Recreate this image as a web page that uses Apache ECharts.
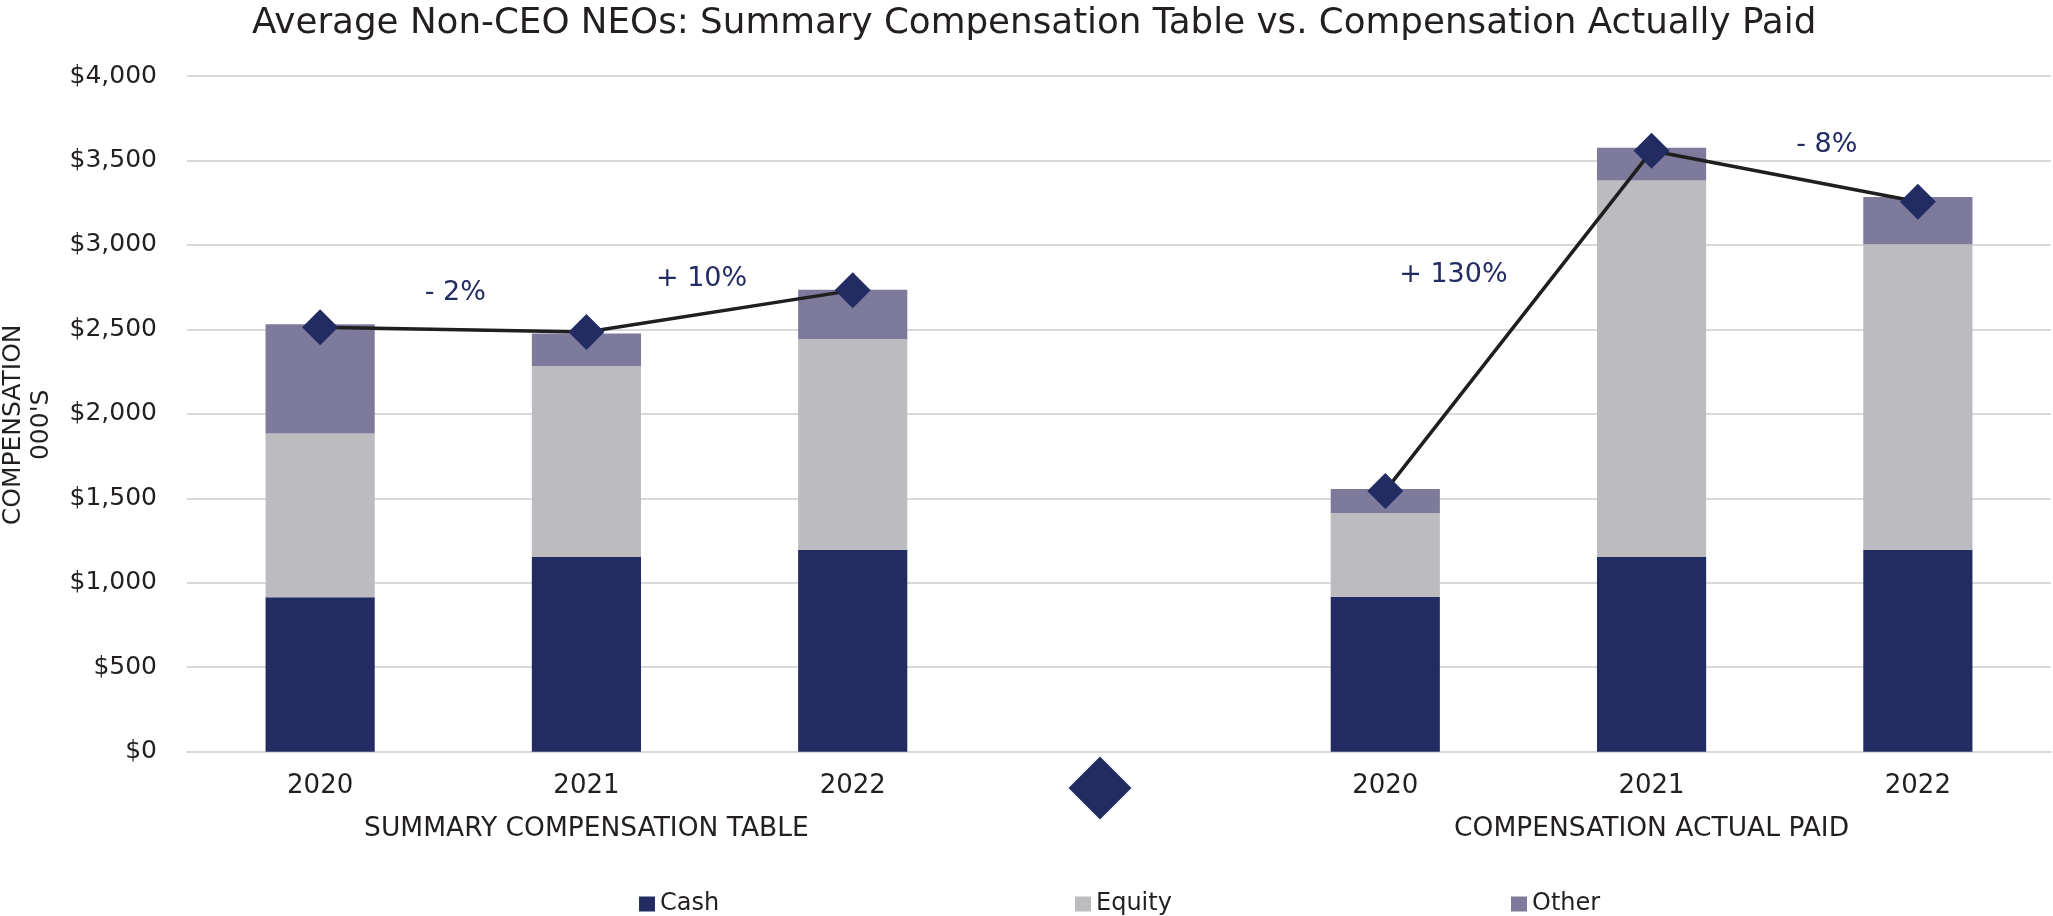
<!DOCTYPE html>
<html>
<head>
<meta charset="utf-8">
<script src="https://cdn.jsdelivr.net/npm/echarts@6/dist/echarts.min.js"></script>
<style>html,body{margin:0;padding:0;background:#fff;}#c{width:2053px;height:916px;}</style>
</head>
<body>
<div id="c"></div>
<script>
const categories = ['2020', '2021', '2022', '', '2020', '2021', '2022'];
const groupLabels = ['', 'SUMMARY COMPENSATION TABLE', '', '', '', 'COMPENSATION ACTUAL PAID', ''];
const cash   = [915, 1153, 1195, null, 918, 1153, 1195];
const equity = [968, 1131, 1248, null, 495, 2228, 1809];
const other  = [647, 191, 291, null, 142, 194, 280];
const total  = [2513, 2485, 2731, null, 1544, 3557, 3256];
const separatorMarker = [null, null, null, -215, null, null, null];
const changeLabels = ['- 2%', '+ 10%', '+ 130%', '- 8%'];
const changePairs = [[0, 1], [1, 2], [4, 5], [5, 6]];

const FONT = 'DejaVu Sans';
const NAVY = '#222c63';
const TEXT = '#231f20';

// label anchors: midpoint of the segment each label describes (value x-axis, category i centered at i+0.5)
const labelOffsets = [[2, -37], [-18, -32], [-65, -46], [42, -31]];
const changeData = changePairs.map(function (p, k) {
  return {
    value: [(p[0] + p[1]) / 2 + 0.5, (total[p[0]] + total[p[1]]) / 2],
    name: changeLabels[k],
    label: { offset: labelOffsets[k] }
  };
});

const chart = echarts.init(document.getElementById('c'));
chart.setOption({
  animation: false,
  backgroundColor: '#ffffff',
  textStyle: { fontFamily: FONT },
  title: {
    text: 'Average Non-CEO NEOs: Summary Compensation Table vs. Compensation Actually Paid',
    left: 247,
    top: 1,
    textStyle: { fontFamily: FONT, fontSize: 35.7, fontWeight: 'normal', color: TEXT }
  },
  legend: [
    { data: ['Cash'], left: 634, top: 887 },
    { data: ['Equity'], left: 1070, top: 887 },
    { data: ['Other'], left: 1506, top: 887 }
  ].map(function (l) {
    return Object.assign(l, {
      icon: 'rect', itemWidth: 16, itemHeight: 15, itemGap: 0,
      textStyle: { fontFamily: FONT, fontSize: 24, color: TEXT, padding: [0, 0, 0, 0] }
    });
  }),
  grid: { left: 187, right: 2, top: 76, bottom: 164.3, containLabel: false, outerBoundsMode: 'none' },
  xAxis: [
    {
      type: 'category', data: categories,
      axisLine: { show: true, lineStyle: { color: '#d9d9d9', width: 2 } },
      axisTick: { show: false },
      axisLabel: { interval: 0, margin: 22, fontFamily: FONT, fontSize: 26, color: TEXT }
    },
    {
      type: 'category', data: groupLabels, position: 'bottom', offset: 64,
      axisLine: { show: false }, axisTick: { show: false }, splitLine: { show: false },
      axisLabel: { interval: 0, margin: 0, fontFamily: FONT, fontSize: 26.5, color: TEXT }
    },
    { type: 'value', min: 0, max: 7, show: false }
  ],
  yAxis: {
    type: 'value', min: 0, max: 4000, interval: 500,
    name: "COMPENSATION\n000'S", nameLocation: 'middle', nameGap: 132, nameRotate: 90,
    nameTextStyle: { fontFamily: FONT, fontSize: 25, color: TEXT, lineHeight: 28, padding: [0, 22, 0, 0] },
    axisLine: { show: false }, axisTick: { show: false },
    splitLine: { lineStyle: { color: '#d9d9d9', width: 2 } },
    axisLabel: {
      margin: 30, fontFamily: FONT, fontSize: 25, color: TEXT,
      formatter: function (v) { return '$' + v.toLocaleString('en-US'); }
    }
  },
  series: [
    { name: 'Cash', type: 'bar', stack: 'c', data: cash, barWidth: '41%', itemStyle: { color: NAVY } },
    { name: 'Equity', type: 'bar', stack: 'c', data: equity, barWidth: '41%', itemStyle: { color: '#bcbcc0' } },
    { name: 'Other', type: 'bar', stack: 'c', data: other, barWidth: '41%', itemStyle: { color: '#7e7a9c' } },
    {
      name: 'Total', type: 'line', data: total, connectNulls: false,
      symbol: 'diamond', symbolSize: 36, z: 5,
      lineStyle: { color: '#1f1f1f', width: 3.5 },
      itemStyle: { color: NAVY, opacity: 1 }
    },
    {
      name: 'Marker', type: 'scatter', data: separatorMarker, clip: false,
      symbol: 'diamond', symbolSize: 63, symbolOffset: [-19, 0],
      itemStyle: { color: NAVY, opacity: 1 }, z: 5
    },
    {
      name: 'Change', type: 'scatter', xAxisIndex: 2, data: changeData, symbolSize: 0, z: 6,
      itemStyle: { opacity: 1 },
      label: {
        show: true, position: 'inside', formatter: '{b}',
        fontFamily: FONT, fontSize: 27, color: NAVY
      }
    }
  ]
});
</script>
</body>
</html>
